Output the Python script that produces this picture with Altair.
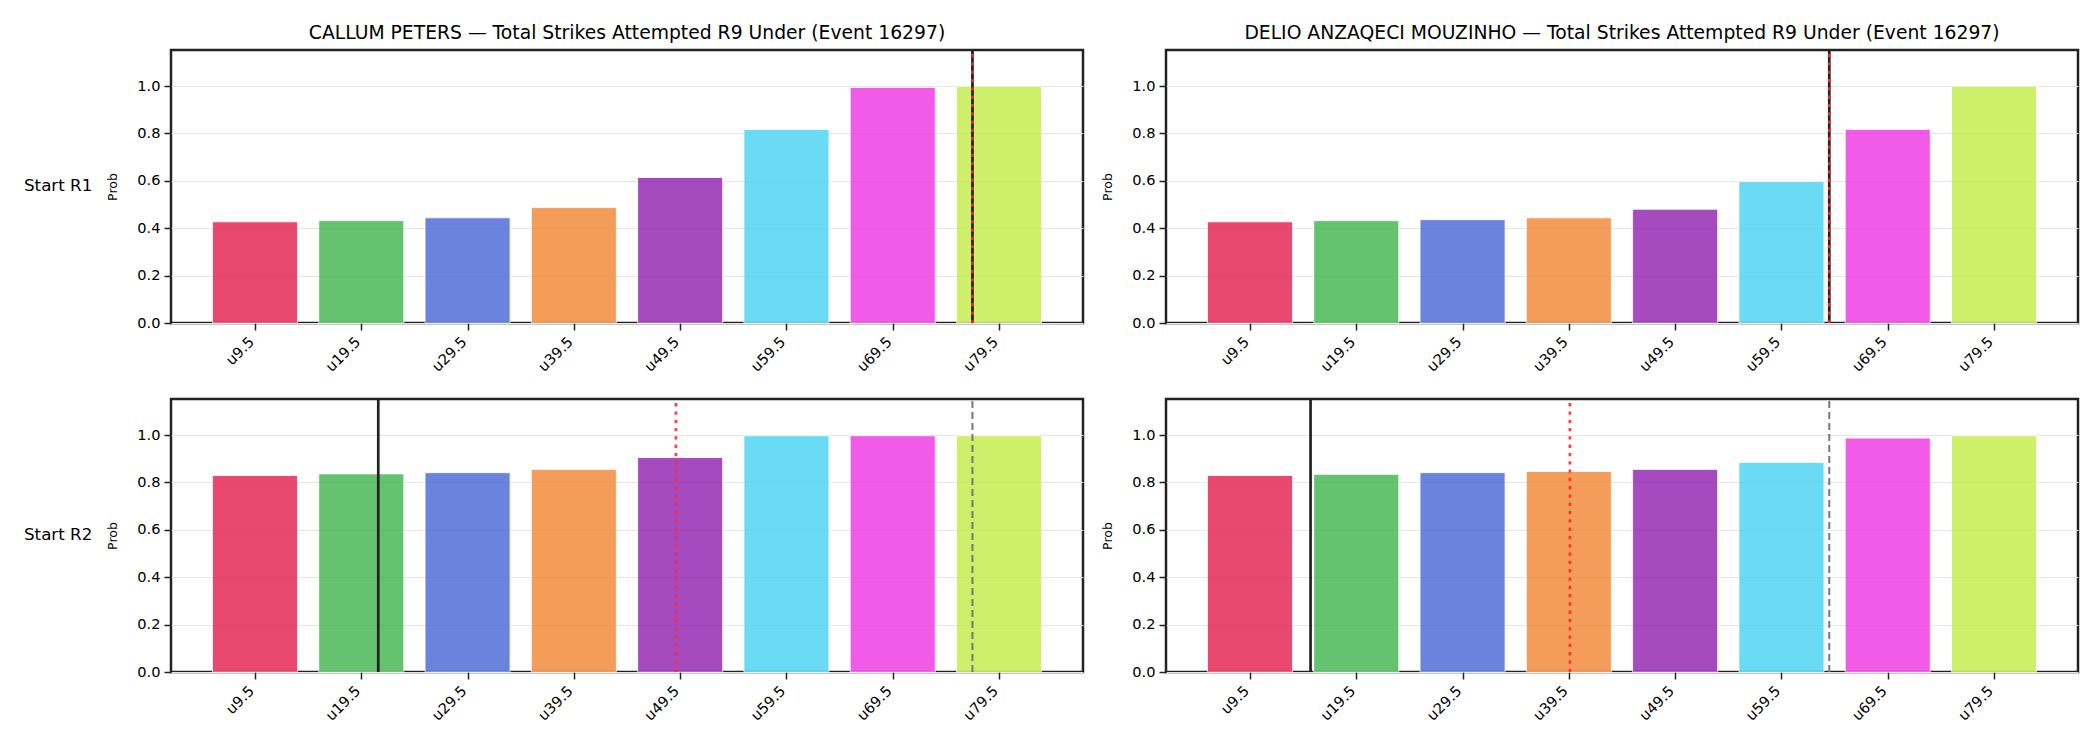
import altair as alt
import pandas as pd

# Under thresholds (strike counts) and their tick labels
thresholds = [9.5, 19.5, 29.5, 39.5, 49.5, 59.5, 69.5, 79.5]
labels = ["u9.5", "u19.5", "u29.5", "u39.5", "u49.5", "u59.5", "u69.5", "u79.5"]
bar_colors = ["#E72A57", "#4BB856", "#516ED8", "#F38C3F",
              "#962BB5", "#4FD5F3", "#F03FE4", "#C5ED50"]

fighters = ["CALLUM PETERS", "DELIO ANZAQECI MOUZINHO"]
starts = ["Start R1", "Start R2"]

# P(total strikes attempted under threshold)
callum_r1 = [0.427, 0.432, 0.444, 0.487, 0.614, 0.817, 0.994, 0.999]
callum_r2 = [0.829, 0.836, 0.841, 0.855, 0.905, 0.997, 0.997, 0.997]
delio_r1 = [0.427, 0.432, 0.436, 0.444, 0.480, 0.597, 0.817, 0.999]
delio_r2 = [0.829, 0.834, 0.841, 0.846, 0.855, 0.884, 0.987, 0.997]

probs = {
    ("CALLUM PETERS", "Start R1"): callum_r1,
    ("CALLUM PETERS", "Start R2"): callum_r2,
    ("DELIO ANZAQECI MOUZINHO", "Start R1"): delio_r1,
    ("DELIO ANZAQECI MOUZINHO", "Start R2"): delio_r2,
}

# Reference markers, in strike counts
market_line = {"CALLUM PETERS": 77.0, "DELIO ANZAQECI MOUZINHO": 64.0}
projection = {
    ("CALLUM PETERS", "Start R1"): 77.0,
    ("CALLUM PETERS", "Start R2"): 21.1,
    ("DELIO ANZAQECI MOUZINHO", "Start R1"): 64.0,
    ("DELIO ANZAQECI MOUZINHO", "Start R2"): 15.2,
}
expected = {
    ("CALLUM PETERS", "Start R1"): 77.0,
    ("CALLUM PETERS", "Start R2"): 49.1,
    ("DELIO ANZAQECI MOUZINHO", "Start R1"): 64.0,
    ("DELIO ANZAQECI MOUZINHO", "Start R2"): 39.6,
}

EVENT = 16297
PW, PH = 912, 273
BAR_HALF = 4.0

x_scale = alt.Scale(domain=[thresholds[0] - 7.9, thresholds[-1] + 7.9], nice=False, zero=False)
y_scale = alt.Scale(domain=[0, 1.152], nice=False, zero=True)

x_axis = alt.Axis(
    values=thresholds,
    labelExpr="'u' + datum.value",
    labelAngle=-45,
    labelAlign="right",
    labelBaseline="top",
    labelOffset=-9,
    labelPadding=4,
    grid=False,
    title=None,
)
y_axis = alt.Axis(
    values=[0, 0.2, 0.4, 0.6, 0.8, 1.0],
    format=".1f",
    grid=True,
    title="Prob",
    titlePadding=17,
    labelPadding=4,
)


def panel(fighter, start, with_title, with_row_label):
    p = probs[(fighter, start)]
    bars_df = pd.DataFrame({
        "label": labels,
        "lo": [t - BAR_HALF for t in thresholds],
        "hi": [t + BAR_HALF for t in thresholds],
        "p": p,
    })
    bars = alt.Chart(bars_df).mark_bar(opacity=0.85, stroke="white", strokeWidth=0.8).encode(
        x=alt.X("lo:Q", scale=x_scale, axis=x_axis),
        x2="hi:Q",
        y=alt.Y("p:Q", scale=y_scale, axis=y_axis),
        y2=alt.datum(0),
        color=alt.Color("label:N", scale=alt.Scale(domain=labels, range=bar_colors), legend=None),
    )

    line_rule = alt.Chart(pd.DataFrame({"v": [market_line[fighter]]})).mark_rule(
        color="#777777", strokeWidth=2, strokeDash=[7, 4]
    ).encode(x=alt.X("v:Q", scale=x_scale), y=alt.value(PH), y2=alt.value(0))

    proj_rule = alt.Chart(pd.DataFrame({"v": [projection[(fighter, start)]]})).mark_rule(
        color="#222222", strokeWidth=2.7
    ).encode(x=alt.X("v:Q", scale=x_scale), y=alt.value(PH), y2=alt.value(0))

    exp_rule = alt.Chart(pd.DataFrame({"v": [expected[(fighter, start)]]})).mark_rule(
        color="#ff2a2a", opacity=0.9, strokeWidth=2.7, strokeDash=[3.3, 5]
    ).encode(x=alt.X("v:Q", scale=x_scale), y=alt.value(PH), y2=alt.value(0))

    layers = [bars, line_rule, proj_rule, exp_rule]
    if with_row_label:
        row_label = alt.Chart(pd.DataFrame({"t": [start]})).mark_text(
            align="left", baseline="middle", fontSize=16.7, font="DejaVu Sans", color="black"
        ).encode(x=alt.value(-147), y=alt.value(136), text="t:N")
        layers.append(row_label)

    props = dict(width=PW, height=PH)
    if with_title:
        props["title"] = alt.TitleParams(
            f"{fighter} — Total Strikes Attempted R9 Under (Event {EVENT})",
            fontSize=18.75, font="DejaVu Sans", fontWeight="normal", color="black",
            anchor="middle", baseline="bottom", frame="group", offset=-13,
        )
    return alt.layer(*layers).properties(**props)


cells = []
for r, start in enumerate(starts):
    for c, f in enumerate(fighters):
        cells.append(panel(f, start, with_title=(r == 0), with_row_label=(c == 0)))

chart = alt.concat(
    *cells, columns=2, spacing={"row": 76, "column": 83}, bounds="flush"
).properties(
    padding={"left": 22, "top": 22, "right": 10, "bottom": 10}
).configure(
    font="DejaVu Sans"
).configure_view(
    stroke="#222222", strokeWidth=2.5
).configure_axis(
    domain=False,
    tickColor="#222222",
    tickWidth=1.5,
    tickSize=7,
    labelFontSize=14.6,
    labelColor="black",
    labelFont="DejaVu Sans",
    titleFontSize=12.5,
    titleFontWeight="normal",
    titleColor="black",
    titleFont="DejaVu Sans",
    gridColor="#e5e5e5",
    gridWidth=1,
)

chart.save("out.html", embed_options={"renderer": "svg", "actions": False})
